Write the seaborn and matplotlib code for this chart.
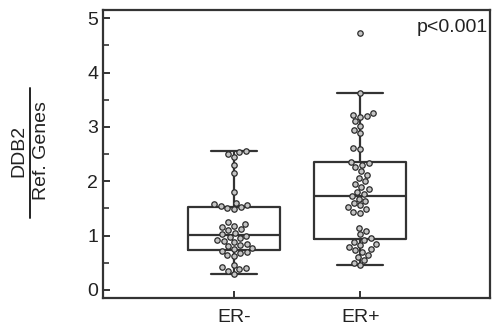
import matplotlib
matplotlib.use("Agg")
import matplotlib.pyplot as plt
from matplotlib.ticker import MultipleLocator
import numpy as np
import pandas as pd
import seaborn as sns

groups = ["ER-", "ER+"]

er_neg = [2.55, 2.53, 2.50, 2.45, 2.30, 2.15, 1.80,
          1.60, 1.58, 1.56, 1.54, 1.52, 1.50, 1.48,
          1.25, 1.22, 1.18, 1.15, 1.12, 1.10, 1.05, 1.02, 1.00, 0.98,
          0.95, 0.92, 0.90, 0.88, 0.85, 0.82, 0.80, 0.78, 0.75, 0.72,
          0.70, 0.68, 0.65, 0.62,
          0.45, 0.42, 0.40, 0.38, 0.35, 0.30]

er_pos = [4.72,
          3.62, 3.25, 3.22, 3.20, 3.18, 3.10, 3.02, 2.95, 2.88, 2.62, 2.60,
          2.36, 2.33, 2.30, 2.26,
          2.18, 2.12, 2.06, 2.00, 1.95, 1.90, 1.85, 1.80, 1.76, 1.72,
          1.68, 1.64, 1.60, 1.56, 1.52, 1.48, 1.44, 1.41,
          1.14, 1.08, 1.02, 0.96, 0.92, 0.88, 0.85, 0.82, 0.79, 0.76, 0.73, 0.70,
          0.65, 0.60, 0.55, 0.50, 0.45]

p_label = "p<0.001"

df = pd.DataFrame({
    "group": [groups[0]] * len(er_neg) + [groups[1]] * len(er_pos),
    "value": er_neg + er_pos,
})

sns.set_style("ticks")
plt.rcParams['font.family'] = ['Liberation Sans', 'DejaVu Sans']

fig = plt.figure(figsize=(4.94, 3.36), dpi=100)
ax = fig.add_axes([0.2085, 0.113, 0.7835, 0.857])

line_col = "#333333"
sns.boxplot(data=df, x="group", y="value", order=groups, ax=ax, width=0.73,
            showfliers=False, fill=False, color=line_col, linewidth=1.6,
            whis=1.5, showcaps=True)
sns.swarmplot(data=df, x="group", y="value", order=groups, ax=ax, size=3.9,
              color="#c4c4c4", edgecolor="#2b2b2b", linewidth=0.9)

ax.set_xlim(-1.04, 2.03)
ax.set_ylim(-0.15, 5.15)
ax.yaxis.set_major_locator(MultipleLocator(1))
ax.yaxis.set_minor_locator(MultipleLocator(0.5))
ax.tick_params(axis="both", direction="in", length=5, width=1.4, colors=line_col,
               labelsize=14, labelcolor="#222222")
ax.tick_params(axis="y", which="minor", direction="in", length=4, width=1.2, colors=line_col)
ax.tick_params(axis="x", pad=8)
for s in ax.spines.values():
    s.set_linewidth(1.6)
    s.set_color(line_col)
ax.set_xlabel("")
ax.set_ylabel("")

ax.text(0.995, 0.97, p_label, transform=ax.transAxes, ha="right", va="top",
        fontsize=14, color="#222222")

# fraction-style y label
fig.text(19 / 494, 1 - 151 / 336, "DDB2", rotation=90, ha="center", va="center",
         fontsize=14, color="#222222")
fig.text(41 / 494, 1 - 151 / 336, "Ref. Genes", rotation=90, ha="center", va="center",
         fontsize=14, color="#222222")
fig.add_artist(plt.Line2D([30 / 494, 30 / 494], [1 - 88 / 336, 1 - 218 / 336],
                          color="#222222", linewidth=1.4))

fig.savefig("out.png", dpi=100)
